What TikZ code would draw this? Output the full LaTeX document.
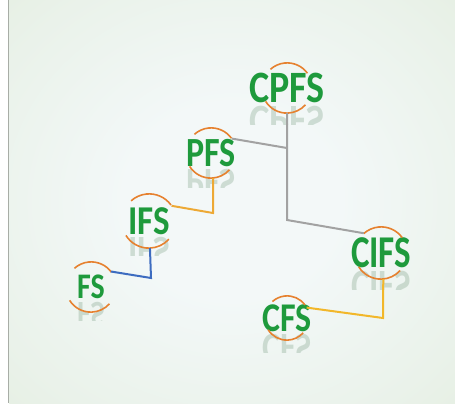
\documentclass[tikz,border=0pt]{standalone}
\usepackage{fontspec}
\setmainfont{Carlito}
\usepackage{graphicx}
\definecolor{glowin}{HTML}{F3F8F8}
\definecolor{glowmid}{HTML}{EAF2EA}
\definecolor{glowout}{HTML}{DCE9D2}
\definecolor{edgegray}{HTML}{A8ADA6}
\definecolor{tagGreen}{HTML}{1E9A3C}
\definecolor{ringOrange}{HTML}{E6812F}
\definecolor{linkGray}{HTML}{A2A2A2}
\definecolor{linkOrange}{HTML}{EDA935}
\definecolor{linkYellow}{HTML}{F2B72A}
\definecolor{linkBlue}{HTML}{3D6CC0}
\pgfdeclareradialshading{panelglow}{\pgfpoint{0bp}{0bp}}{%
  color(0bp)=(glowin); color(12bp)=(glowin); color(30bp)=(glowmid);
  color(55bp)=(glowout); color(80bp)=(glowout)}

% one labelled ring: text, the upper part of its mirror image and two orange arcs
% #1 name, #2 centre, #3 text, #4 font size, #5 ring radius, #6 vertical stretch
\newcommand\ringtag[6]{%
  \node[tagring=#5] (#1) at (#2) {};
  \node[tagtext=#4] (#1-t) at (#1) {\scalebox{1}[#6]{#3}};
  \begin{scope}
    \clip (#1-t.south) ++(-60,0) rectangle ++(120,21);
    \node[tagtext=#4, anchor=north, text=tagGreen!35!gray, opacity=0.25, yshift=-2.5pt]
      (#1-r) at (#1-t.south) {\scalebox{1}[-#6]{#3}};
  \end{scope}
  \draw[ringarc] (#1.36) arc[start angle=36, end angle=132, radius=#5 pt];
  \draw[ringarc] (#1.212) arc[start angle=212, end angle=318, radius=#5 pt];
}

\begin{document}
\begin{tikzpicture}[x=1pt, y=-1pt,
  tagring/.style={circle, minimum size=2*#1 pt, inner sep=0pt},
  tagtext/.style={font=\bfseries\fontsize{#1}{#1}\selectfont, text=tagGreen, inner sep=0pt},
  ringarc/.style={draw=ringOrange, line width=1.6pt},
  link/.style={line width=2pt, line join=miter}]
\useasboundingbox (0,0) rectangle (455,408);
% backdrop panel with its left edge line
\shade[shading=panelglow] (9,0) rectangle (455,403);
\draw[edgegray, line width=1.5pt] (8.5,0) -- (8.5,403);

\ringtag{CPFS}{287,88}{CPFS}{38}{25}{1.18}
\ringtag{PFS}{211,153}{PFS}{34}{25}{1.22}
\ringtag{IFS}{149,221}{IFS}{35}{27}{1.17}
\ringtag{FS}{91,287}{FS}{30}{25}{1.2}
\ringtag{CIFS}{381,253}{CIFS}{35}{26}{1.3}
\ringtag{CFS}{287,318}{CFS}{34}{22}{1.2}

\coordinate (j0) at (287,148);
\coordinate (j1) at (287,220);
\coordinate (j2) at (213,213);
\coordinate (j3) at (151,278);
\coordinate (j4) at (383,318);

\draw[link, linkGray] (CPFS.south) -- (j1) -- (CIFS.131);
\draw[link, linkGray] (PFS.35) -- (j0);
\draw[link, linkOrange] (PFS.-85) -- (j2) -- (IFS.34);
\draw[link, linkBlue] (IFS.-88) -- (j3) -- (FS.38);
\draw[link, linkYellow] (CIFS.-85) -- (j4) -- (CFS.28);
\end{tikzpicture}
\end{document}
